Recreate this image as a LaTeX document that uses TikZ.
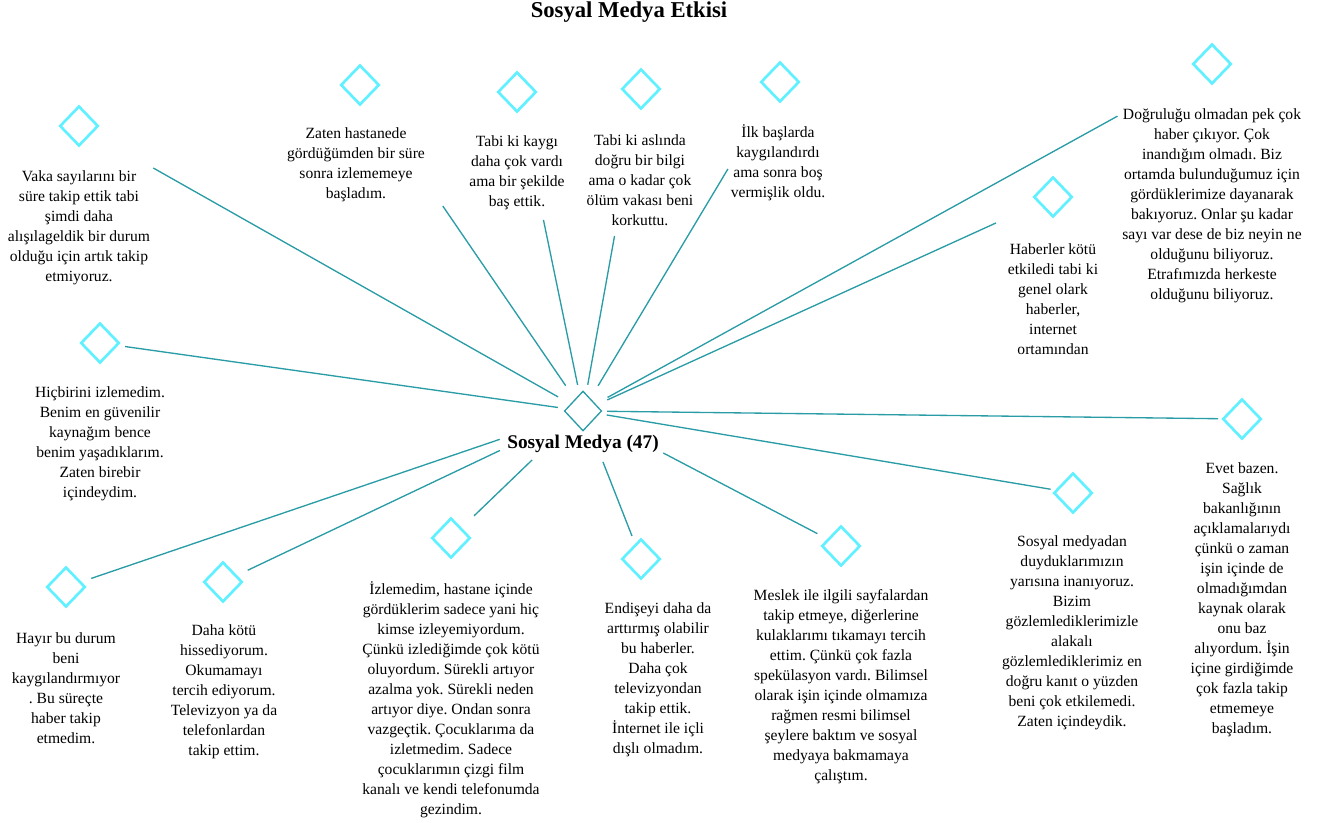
\documentclass[tikz,border=0pt]{standalone}
\usepackage{fontspec}
\setmainfont{Liberation Serif}
\usepackage{tikz}
\usetikzlibrary{shapes.geometric}
\frenchspacing
\definecolor{linkteal}{HTML}{2A9CA6}
\definecolor{leafcyan}{HTML}{60F0FF}
\tikzset{%
  % diamonds
  leaf/.style={diamond, draw=leafcyan, line width=2pt, minimum width=29pt, minimum height=30pt, inner sep=0pt},
  hub/.style={diamond, draw=linkteal, line width=1pt, minimum width=28pt, minimum height=30pt, inner sep=0pt},
  % texts
  quote/.style={align=center, inner sep=0pt, font=\fontsize{11.7}{15}\selectfont},
  hublabel/.style={inner sep=0pt, font=\fontsize{14.5}{17}\selectfont\bfseries},
  heading/.style={inner sep=0pt, font=\fontsize{17}{20}\selectfont\bfseries},
  % edge style
  link/.style={draw=linkteal, line width=1pt},
}
\newcommand{\quotenode}[4]{%
  % #1 = node name
  % #2 = diamond position
  % #3 = text position
  % #4 = text
  \node[leaf] (#1) at (#2) {};
  \node[quote] (#1_t) at (#3) {#4};
}

\begin{document}
\begin{tikzpicture}[x=0.75pt, y=-0.75pt]
  \useasboundingbox (0,0) rectangle (1327,823);

  % Title and hub
  \node[heading] (title) at (629,12) {Sosyal Medya Etkisi};
  \node[hub] (hub) at (583,411) {};
  \node[hublabel] (hub_l) at (583,444) {Sosyal Medya (47)};

  % Upper side
  \quotenode{vaka}{79,126}{79,228}{Vaka sayılarını bir\\süre takip ettik tabi\\şimdi daha\\alışılageldik bir durum\\olduğu için artık takip\\etmiyoruz.};
  \quotenode{zaten}{360,85}{356,165}{Zaten hastanede\\gördüğümden bir süre\\sonra izlememeye\\başladım.};
  \quotenode{kaygi}{517,92}{517,173}{Tabi ki kaygı\\daha çok vardı\\ama bir şekilde\\baş ettik.};
  \quotenode{aslinda}{641,89}{640,180}{Tabi ki aslında\\doğru bir bilgi\\ama o kadar çok\\ölüm vakası beni\\korkuttu.};
  \quotenode{ilk}{780,82}{778,163}{İlk başlarda\\kaygılandırdı\\ama sonra boş\\vermişlik oldu.};
  \quotenode{dogru}{1212,64}{1212,206}{Doğruluğu olmadan pek çok\\haber çıkıyor. Çok\\inandığım olmadı. Biz\\ortamda bulunduğumuz için\\gördüklerimize dayanarak\\bakıyoruz. Onlar şu kadar\\sayı var dese de biz neyin ne\\olduğunu biliyoruz.\\Etrafımızda herkeste\\olduğunu biliyoruz.};
  \quotenode{haber}{1053,197}{1053,299}{Haberler kötü\\etkiledi tabi ki\\genel olark\\haberler,\\internet\\ortamından};

  % Side
  \quotenode{hic}{100,343}{100,444}{Hiçbirini izlemedim.\\Benim en güvenilir\\kaynağım bence\\benim yaşadıklarım.\\Zaten birebir\\içindeydim.};
  \quotenode{evet}{1242,419}{1242,600}{Evet bazen.\\Sağlık\\bakanlığının\\açıklamalarıydı\\çünkü o zaman\\işin içinde de\\olmadığımdan\\kaynak olarak\\onu baz\\alıyordum. İşin\\içine girdiğimde\\çok fazla takip\\etmemeye\\başladım.};

  % Lower side
  \quotenode{sosyal}{1073,493}{1072,633}{Sosyal medyadan\\duyduklarımızın\\yarısına inanıyoruz.\\Bizim\\gözlemlediklerimizle\\alakalı\\gözlemlediklerimiz en\\doğru kanıt o yüzden\\beni çok etkilemedi.\\Zaten içindeydik.};
  \quotenode{meslek}{841,546}{841,687}{Meslek ile ilgili sayfalardan\\takip etmeye, diğerlerine\\kulaklarımı tıkamayı tercih\\ettim. Çünkü çok fazla\\spekülasyon vardı. Bilimsel\\olarak işin içinde olmamıza\\rağmen resmi bilimsel\\şeylere baktım ve sosyal\\medyaya bakmamaya\\çalıştım.};
  \quotenode{endise}{641,559}{658,680}{Endişeyi daha da\\arttırmış olabilir\\bu haberler.\\Daha çok\\televizyondan\\takip ettik.\\İnternet ile içli\\dışlı olmadım.};
  \quotenode{izle}{451,538}{451,700}{İzlemedim, hastane içinde\\gördüklerim sadece yani hiç\\kimse izleyemiyordum.\\Çünkü izlediğimde çok kötü\\oluyordum. Sürekli artıyor\\azalma yok. Sürekli neden\\artıyor diye. Ondan sonra\\vazgeçtik. Çocuklarıma da\\izletmedim. Sadece\\çocuklarımın çizgi film\\kanalı ve kendi telefonumda\\gezindim.};
  \quotenode{kotu}{223,582}{224,692}{Daha kötü\\hissediyorum.\\Okumamayı\\tercih ediyorum.\\Televizyon ya da\\telefonlardan\\takip ettim.};
  \quotenode{hayir}{66,587}{66,688}{Hayır bu durum\\beni\\kaygılandırmıyor\\. Bu süreçte\\haber takip\\etmedim.};

  % Links
  \draw[link, shorten <=21.5pt, shorten >=64pt] (hub.center) -- (vaka.center);
  \draw[link, shorten <=23pt, shorten >=110pt] (hub.center) -- (zaten.center);
  \draw[link, shorten <=20pt, shorten >=98pt] (hub.center) -- (kaygi.center);
  \draw[link, shorten <=20pt, shorten >=112pt] (hub.center) -- (aslinda.center);
  \draw[link, shorten <=22pt, shorten >=76pt] (hub.center) -- (ilk.center);
  \draw[link, shorten <=21pt, shorten >=81pt] (hub.center) -- (dogru.center);
  \draw[link, shorten <=20pt, shorten >=47pt] (hub.center) -- (haber.center);
  \draw[link, shorten <=19pt, shorten >=19pt] (hub.center) -- (hic.center);
  \draw[link, shorten <=18pt, shorten >=18pt] (hub.center) -- (evet.center);
  \draw[link, shorten <=18pt, shorten >=17pt] (hub.center) -- (sosyal.center);
  \draw[link, shorten <=68pt, shorten >=20pt] (hub.center) -- (meslek.center);
  \draw[link, shorten <=41pt, shorten >=18.5pt] (hub.center) -- (endise.center);
  \draw[link, shorten <=53pt, shorten >=24pt] (hub.center) -- (izle.center);
  \draw[link, shorten <=69pt, shorten >=20.5pt] (hub.center) -- (kotu.center);
  \draw[link, shorten <=66pt, shorten >=20pt] (hub.center) -- (hayir.center);
\end{tikzpicture}
\end{document}
